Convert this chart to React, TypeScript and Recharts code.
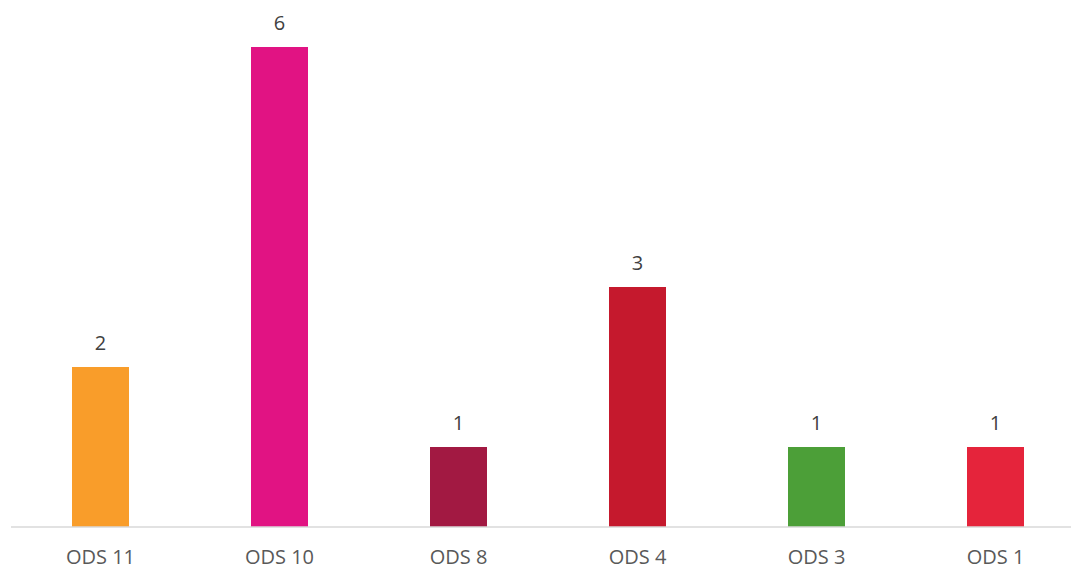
import React from "react";
import { BarChart, Bar, XAxis, YAxis, Cell, LabelList } from "recharts";

const categories = ["ODS 11", "ODS 10", "ODS 8", "ODS 4", "ODS 3", "ODS 1"];
const values = [2, 6, 1, 3, 1, 1];
const colors = ["#F99D2A", "#E11383", "#A21942", "#C5192D", "#4C9F38", "#E5243B"];

const data = categories.map((name, i) => ({ name, value: values[i] }));

const FONT = "'Open Sans', 'Liberation Sans', sans-serif";

export default function App() {
  return (
    <div
      style={{
        position: "fixed",
        left: 0,
        top: 0,
        width: 1071,
        height: 569,
        background: "#fff",
      }}
    >
      <BarChart
        width={1071}
        height={569}
        data={data}
        margin={{ top: 7, right: 0, bottom: 0, left: 11 }}
        barSize={57}
      >
        <XAxis
          dataKey="name"
          height={42}
          padding={{ left: 0, right: -14 }}
          tickLine={false}
          axisLine={{ stroke: "#D9D9D9", strokeWidth: 1.5 }}
          tick={{ fill: "#595959", fontSize: 20, fontFamily: FONT }}
          tickMargin={17}
          interval={0}
        />
        <YAxis hide domain={[0, 6.5]} />
        <Bar dataKey="value" isAnimationActive={false}>
          {data.map((d, i) => (
            <Cell key={d.name} fill={colors[i]} />
          ))}
          <LabelList
            dataKey="value"
            position="top"
            offset={17}
            fill="#404040"
            fontSize={20}
            fontFamily={FONT}
          />
        </Bar>
      </BarChart>
    </div>
  );
}
